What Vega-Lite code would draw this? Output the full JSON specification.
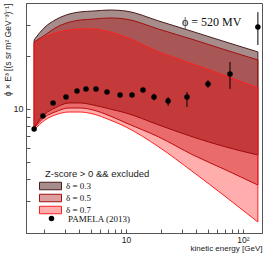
{
  "$schema": "https://vega.github.io/schema/vega-lite/v6.json",
  "autosize": {"type": "none"},
  "width": 236,
  "height": 230,
  "padding": {"left": 26, "top": 3, "right": 4, "bottom": 21},
  "background": "white",
  "config": {
    "view": {"stroke": "#555", "strokeWidth": 1},
    "axis": {"domainColor": "#555", "tickColor": "#555", "grid": false, "labelFont": "Liberation Sans", "titleFont": "Liberation Sans", "labelColor": "#222", "titleColor": "#222", "titleFontWeight": "normal"}
  },
  "datasets": {
    "bands": [
      {"E": 1.64, "band": "δ = 0.3", "lo": 7.90, "hi": 24.7},
      {"E": 2.03, "band": "δ = 0.3", "lo": 9.37, "hi": 29.2},
      {"E": 2.47, "band": "δ = 0.3", "lo": 10.13, "hi": 32.0},
      {"E": 3.26, "band": "δ = 0.3", "lo": 10.82, "hi": 34.6},
      {"E": 4.05, "band": "δ = 0.3", "lo": 10.82, "hi": 35.6},
      {"E": 5.22, "band": "δ = 0.3", "lo": 10.54, "hi": 36.0},
      {"E": 7.30, "band": "δ = 0.3", "lo": 10.0, "hi": 36.5},
      {"E": 10.0, "band": "δ = 0.3", "lo": 9.49, "hi": 36.0},
      {"E": 19.1, "band": "δ = 0.3", "lo": 8.11, "hi": 31.6},
      {"E": 37.4, "band": "δ = 0.3", "lo": 6.93, "hi": 27.5},
      {"E": 71.6, "band": "δ = 0.3", "lo": 6.08, "hi": 24.0},
      {"E": 134, "band": "δ = 0.3", "lo": 5.48, "hi": 21.1},
      {"E": 1.64, "band": "δ = 0.5", "lo": 7.80, "hi": 24.0},
      {"E": 2.03, "band": "δ = 0.5", "lo": 9.01, "hi": 26.3},
      {"E": 2.47, "band": "δ = 0.5", "lo": 9.61, "hi": 28.8},
      {"E": 3.26, "band": "δ = 0.5", "lo": 10.13, "hi": 31.1},
      {"E": 4.05, "band": "δ = 0.5", "lo": 10.13, "hi": 32.0},
      {"E": 5.22, "band": "δ = 0.5", "lo": 9.87, "hi": 32.4},
      {"E": 7.30, "band": "δ = 0.5", "lo": 9.13, "hi": 32.9},
      {"E": 10.0, "band": "δ = 0.5", "lo": 8.33, "hi": 32.4},
      {"E": 19.1, "band": "δ = 0.5", "lo": 6.93, "hi": 28.4},
      {"E": 37.4, "band": "δ = 0.5", "lo": 5.48, "hi": 24.8},
      {"E": 71.6, "band": "δ = 0.5", "lo": 4.50, "hi": 21.6},
      {"E": 134, "band": "δ = 0.5", "lo": 3.70, "hi": 19.0},
      {"E": 1.64, "band": "δ = 0.7", "lo": 7.60, "hi": 23.5},
      {"E": 2.03, "band": "δ = 0.7", "lo": 8.66, "hi": 25.6},
      {"E": 2.47, "band": "δ = 0.7", "lo": 9.24, "hi": 27.0},
      {"E": 3.26, "band": "δ = 0.7", "lo": 9.61, "hi": 28.1},
      {"E": 4.05, "band": "δ = 0.7", "lo": 9.61, "hi": 28.5},
      {"E": 5.22, "band": "δ = 0.7", "lo": 9.37, "hi": 28.5},
      {"E": 7.30, "band": "δ = 0.7", "lo": 8.66, "hi": 27.4},
      {"E": 10.0, "band": "δ = 0.7", "lo": 7.90, "hi": 25.6},
      {"E": 19.1, "band": "δ = 0.7", "lo": 6.08, "hi": 21.1},
      {"E": 37.4, "band": "δ = 0.7", "lo": 4.39, "hi": 18.0},
      {"E": 71.6, "band": "δ = 0.7", "lo": 3.16, "hi": 15.4},
      {"E": 134, "band": "δ = 0.7", "lo": 2.28, "hi": 13.2}
    ],
    "pamela": [
      {"E": 1.64, "flux": 7.70, "lo": 7.55, "hi": 7.85, "series": "PAMELA (2013)"},
      {"E": 1.95, "flux": 9.13, "lo": 8.95, "hi": 9.30, "series": "PAMELA (2013)"},
      {"E": 2.38, "flux": 10.82, "lo": 10.6, "hi": 11.0, "series": "PAMELA (2013)"},
      {"E": 3.07, "flux": 11.70, "lo": 11.5, "hi": 11.9, "series": "PAMELA (2013)"},
      {"E": 3.81, "flux": 12.66, "lo": 12.45, "hi": 12.85, "series": "PAMELA (2013)"},
      {"E": 4.55, "flux": 13.00, "lo": 12.8, "hi": 13.2, "series": "PAMELA (2013)"},
      {"E": 5.54, "flux": 13.00, "lo": 12.8, "hi": 13.2, "series": "PAMELA (2013)"},
      {"E": 6.88, "flux": 12.49, "lo": 12.25, "hi": 12.7, "series": "PAMELA (2013)"},
      {"E": 8.89, "flux": 12.01, "lo": 11.75, "hi": 12.25, "series": "PAMELA (2013)"},
      {"E": 11.25, "flux": 12.01, "lo": 11.75, "hi": 12.25, "series": "PAMELA (2013)"},
      {"E": 13.97, "flux": 12.82, "lo": 12.5, "hi": 13.1, "series": "PAMELA (2013)"},
      {"E": 17.35, "flux": 11.70, "lo": 11.2, "hi": 12.2, "series": "PAMELA (2013)"},
      {"E": 22.9, "flux": 11.10, "lo": 10.4, "hi": 11.7, "series": "PAMELA (2013)"},
      {"E": 33.2, "flux": 11.70, "lo": 10.27, "hi": 12.49, "series": "PAMELA (2013)"},
      {"E": 50.2, "flux": 13.87, "lo": 13.2, "hi": 14.6, "series": "PAMELA (2013)"},
      {"E": 77.4, "flux": 15.81, "lo": 13.0, "hi": 18.5, "series": "PAMELA (2013)"},
      {"E": 134, "flux": 29.2, "lo": 23.1, "hi": 35.5, "series": "PAMELA (2013)"}
    ],
    "label": [
      {"E": 30.1, "flux": 31.2, "text": "ϕ = 520 MV"}
    ]
  },
  "layer": [
    {
      "data": {"name": "bands"},
      "mark": {"type": "area", "interpolate": "monotone", "strokeWidth": 1, "clip": true},
      "encoding": {
        "x": {"field": "E", "type": "quantitative",
          "scale": {"type": "log", "domain": [1.397, 145.3], "nice": false},
          "axis": {"values": [2,3,4,5,6,7,8,9,10,20,30,40,50,60,70,80,90,100],
            "labelExpr": "datum.value == 10 ? '10' : datum.value == 100 ? '10²' : ''",
            "tickSize": -4, "labelFontSize": 8.5, "labelPadding": 6, "labelOverlap": false, "labelFlush": false,
            "title": "kinetic energy [GeV]", "titleFontSize": 8, "titleAnchor": "end", "titleAlign": "right", "titleX": 236, "titleY": 17, "titleBaseline": "alphabetic"}},
        "y": {"field": "lo", "type": "quantitative",
          "scale": {"type": "log", "domain": [1.975, 40], "nice": false},
          "axis": {"values": [3,4,5,6,7,8,9,10,20,30],
            "labelExpr": "datum.value == 10 ? '10' : ''",
            "tickSize": -4, "labelFontSize": 9, "labelPadding": 7, "labelOverlap": false, "labelFlush": false,
            "title": "ϕ × E³ [(s sr m² GeV⁻³)⁻¹]", "titleFontSize": 8.5, "titleAngle": -90, "titleAlign": "right", "titleX": -14, "titleY": 0, "titleBaseline": "bottom"}},
        "y2": {"field": "hi"},
        "fill": {"field": "band", "type": "nominal",
          "scale": {"domain": ["δ = 0.3", "δ = 0.5", "δ = 0.7"], "range": ["rgba(80,25,25,0.5)", "rgba(170,0,0,0.38)", "rgba(255,0,0,0.32)"]},
          "legend": {"title": "Z-score > 0 && excluded", "orient": "none", "legendX": 19, "legendY": 166,
            "titleFont": "Liberation Sans", "titleFontSize": 9.5, "titleFontWeight": "normal", "titleColor": "#222", "titlePadding": 2, "titleLimit": 300,
            "labelFont": "Liberation Serif", "labelFontSize": 9, "labelColor": "#111", "labelOffset": 10,
            "symbolType": "M-2.2,-0.75H2.2V0.75H-2.2Z", "symbolSize": 100, "symbolStrokeWidth": 1, "rowPadding": -4, "padding": 0}},
        "stroke": {"field": "band", "type": "nominal",
          "scale": {"domain": ["δ = 0.3", "δ = 0.5", "δ = 0.7"], "range": ["#4a1c1c", "#a01010", "#ff2020"]},
          "legend": null}
      }
    },
    {
      "data": {"name": "pamela"},
      "mark": {"type": "rule", "color": "black", "strokeWidth": 1},
      "encoding": {
        "x": {"field": "E", "type": "quantitative"},
        "y": {"field": "lo", "type": "quantitative"},
        "y2": {"field": "hi"}
      }
    },
    {
      "data": {"name": "pamela"},
      "mark": {"type": "point", "filled": true, "color": "black", "opacity": 1, "size": 30},
      "encoding": {
        "x": {"field": "E", "type": "quantitative"},
        "y": {"field": "flux", "type": "quantitative"},
        "shape": {"field": "series", "type": "nominal", "scale": {"range": ["circle"]},
          "legend": {"title": null, "orient": "none", "legendX": 21, "legendY": 211,
            "labelFont": "Liberation Serif", "labelFontSize": 9, "labelColor": "#111", "labelOffset": 12,
            "symbolFillColor": "black", "symbolStrokeColor": "black", "symbolSize": 30, "padding": 0}}
      }
    },
    {
      "data": {"name": "label"},
      "mark": {"type": "text", "font": "Liberation Serif", "fontSize": 12, "align": "left", "baseline": "middle", "color": "#111"},
      "encoding": {
        "x": {"field": "E", "type": "quantitative"},
        "y": {"field": "flux", "type": "quantitative"},
        "text": {"field": "text"}
      }
    }
  ]
}
